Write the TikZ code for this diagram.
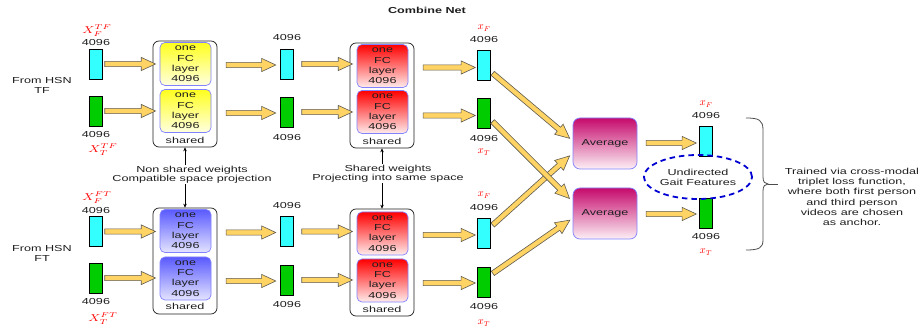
\documentclass[tikz,border=0pt]{standalone}
\usepackage{fontspec}
\setmainfont{Liberation Sans}[FakeStretch=1.45]
\usepackage{graphicx}
\usetikzlibrary{shapes.arrows,shapes.geometric,calc,arrows.meta}
\definecolor{barcyan}{RGB}{51,255,255}
\definecolor{bargreen}{RGB}{0,204,0}
\definecolor{arrfill}{RGB}{255,212,100}
\definecolor{arrdraw}{RGB}{95,90,80}
\definecolor{boxborder}{RGB}{130,130,255}
\definecolor{yeltop}{RGB}{255,255,30}
\definecolor{yelbot}{RGB}{255,255,225}
\definecolor{redtop}{RGB}{255,0,0}
\definecolor{redbot}{RGB}{255,236,236}
\definecolor{bluetop}{RGB}{90,90,255}
\definecolor{bluebot}{RGB}{228,228,255}
\definecolor{avgtop}{RGB}{198,10,108}
\definecolor{avgbot}{RGB}{252,240,246}
\definecolor{ellblue}{RGB}{0,0,210}
\definecolor{labred}{RGB}{255,0,0}
\definecolor{txtcol}{RGB}{30,30,30}
\tikzset{
  txt/.style={font=\fontsize{8.7}{10}\selectfont, inner sep=0pt, text=txtcol},
  bar/.style={draw=black, line width=0.7pt, minimum width=13pt, minimum height=30pt, inner sep=0pt, outer sep=0pt},
  cbar/.style={bar, fill=barcyan},
  gbar/.style={bar, fill=bargreen},
  sharedbox/.style={draw=txtcol, line width=0.7pt, rounded corners=6pt, fill=white, minimum width=64pt, minimum height=106pt, inner sep=0pt},
  fcbox/.style={draw=boxborder, line width=0.7pt, rounded corners=5pt, minimum width=51pt, minimum height=43pt, inner sep=0pt, align=center, text=txtcol, font=\fontsize{8.7}{10.2}\selectfont},
  fcy/.style={fcbox, top color=yeltop, bottom color=yelbot},
  fcr/.style={fcbox, top color=redtop, bottom color=redbot},
  fcb/.style={fcbox, top color=bluetop, bottom color=bluebot},
  avgbox/.style={draw=boxborder, line width=0.7pt, rounded corners=7pt, minimum width=64pt, minimum height=51pt, inner sep=0pt, top color=avgtop, bottom color=avgbot, text=txtcol, font=\fontsize{8.7}{10}\selectfont},
  fatarrow/.style={single arrow, draw=arrdraw, fill=arrfill, line width=0.6pt, inner sep=2.3pt, single arrow head extend=4pt, single arrow tip angle=50, minimum width=0pt, outer sep=0pt},
  redlab/.style={text=labred, inner sep=0pt, font=\fontsize{10.5}{12}\selectfont},
  bigX/.style={text=labred, inner sep=0pt, anchor=base, font=\fontsize{10}{12}\selectfont},
  dbl/.style={{Stealth[length=4pt,width=3.5pt]}-{Stealth[length=4pt,width=3.5pt]}, line width=0.6pt, draw=black},
}
\newcommand\fatarr[3]{\path let \p1=#2, \p2=#3, \n1={atan2(\y2-\y1,\x2-\x1)}, \n2={veclen(\x2-\x1,\y2-\y1)} in node[fatarrow, minimum height=\n2, rotate=\n1] (#1) at ($(\p1)!0.5!(\p2)$) {};}
\begin{document}
\begin{tikzpicture}[x=1pt,y=-1pt]
\useasboundingbox (0,0) rectangle (922,331);
\node[txt, font=\bfseries\fontsize{8.7}{10}\selectfont] (title) at (427,10) {Combine Net};
% left labels
\node[txt, align=center, font=\fontsize{8.7}{9.5}\selectfont] (hsntf) at (42,85.5) {From HSN\\TF};
\node[txt, align=center, font=\fontsize{8.7}{9.5}\selectfont] (hsnft) at (42,253.5) {From HSN\\FT};
% input bars
\node[cbar] (c1) at (95.5,64) {};
\node[gbar] (g1) at (95.5,111) {};
\node[cbar] (c3) at (95.5,231.5) {};
\node[gbar] (g3) at (95.5,278) {};
\node[txt] (c1n) at (96,43) {4096};
\node[bigX] (c1l) at (97,33.5) {\scalebox{1.35}[1]{$X_F^{TF}$}};
\node[txt] (g1n) at (96,135) {4096};
\node[bigX] (g1l) at (103,152.5) {\scalebox{1.35}[1]{$X_T^{TF}$}};
\node[txt] (c3n) at (96,211) {4096};
\node[bigX] (c3l) at (97,200.5) {\scalebox{1.35}[1]{$X_F^{FT}$}};
\node[txt] (g3n) at (96,302) {4096};
\node[bigX] (g3l) at (103,321.5) {\scalebox{1.35}[1]{$X_T^{FT}$}};
% first shared boxes
\node[sharedbox] (S1) at (185,94) {};
\node[fcy] (Y1a) at (185.5,64) {one\\FC\\layer\\4096};
\node[fcy] (Y1b) at (185.5,111) {one\\FC\\layer\\4096};
\node[txt] (S1l) at (185,140) {shared};
\node[sharedbox] (S3) at (185,261) {};
\node[fcb] (B3a) at (185.5,231) {one\\FC\\layer\\4096};
\node[fcb] (B3b) at (185.5,278.5) {one\\FC\\layer\\4096};
\node[txt] (S3l) at (185,306.5) {shared};
% mid bars
\node[cbar] (m1) at (286.5,64) {};
\node[gbar] (m2) at (286.5,112) {};
\node[cbar] (m3) at (286.5,231.5) {};
\node[gbar] (m4) at (286.5,280) {};
\node[txt] (m1n) at (287,38) {4096};
\node[txt] (m2n) at (287,138) {4096};
\node[txt] (m3n) at (287,206) {4096};
\node[txt] (m4n) at (287,305) {4096};
% second shared boxes
\node[sharedbox, minimum height=105pt] (S2) at (382,95.5) {};
\node[fcr] (R2a) at (382.5,66) {one\\FC\\layer\\4096};
\node[fcr] (R2b) at (382.5,112) {one\\FC\\layer\\4096};
\node[txt] (S2l) at (382,141) {shared};
\node[sharedbox, minimum height=107pt] (S4) at (382,262.5) {};
\node[fcr] (R4a) at (382.5,233.5) {one\\FC\\layer\\4096};
\node[fcr] (R4b) at (382.5,280.5) {one\\FC\\layer\\4096};
\node[txt] (S4l) at (382,309) {shared};
% output bars
\node[cbar] (o1) at (484,65.5) {};
\node[gbar] (o2) at (484,113.5) {};
\node[cbar] (o3) at (484,233) {};
\node[gbar] (o4) at (484,282) {};
\node[redlab] (o1l) at (484,28) {$x_F$};
\node[txt] (o1n) at (484,40) {4096};
\node[txt] (o2n) at (484,139) {4096};
\node[redlab] (o2l) at (484,152) {$x_T$};
\node[redlab] (o3l) at (484,195) {$x_F$};
\node[txt] (o3n) at (484,208) {4096};
\node[txt] (o4n) at (484,307) {4096};
\node[redlab] (o4l) at (484,323) {$x_T$};
% weight-sharing notes
\draw[dbl] (S1.south) -- (S3.north);
\node[txt, fill=white, inner sep=1pt, align=center, font=\fontsize{8.7}{9}\selectfont] (nsw) at (192,174.5) {Non shared weights\\Compatible space projection};
\draw[dbl] (S2.south) -- (S4.north);
\node[txt, fill=white, inner sep=1pt, align=center, font=\fontsize{8.7}{9}\selectfont] (sw) at (388,173.5) {Shared weights\\Projecting into same space};
% averages
\node[avgbox] (A1) at (605,143.5) {Average};
\node[avgbox] (A2) at (605,213.5) {Average};
% final bars
\node[cbar] (f1) at (706,141.5) {};
\node[gbar] (f2) at (706,213) {};
\node[redlab] (f1l) at (706,104) {$x_F$};
\node[txt] (f1n) at (706,116) {4096};
\node[txt] (f2n) at (706,237) {4096};
\node[redlab] (f2l) at (706,252) {$x_T$};
% fat arrows
\fatarr{a1}{(c1.east)}{(S1.west|-c1.east)}
\fatarr{a2}{(g1.east)}{(S1.west|-g1.east)}
\fatarr{a3}{(c3.east)}{(S3.west|-c3.east)}
\fatarr{a4}{(g3.east)}{(S3.west|-g3.east)}
\fatarr{a5}{($(S1.east|-m1)+(6,1)$)}{($(m1.west)+(-7,1)$)}
\fatarr{a6}{($(S1.east|-m2)+(6,1)$)}{($(m2.west)+(-7,1)$)}
\fatarr{a7}{($(S3.east|-m3)+(6,1)$)}{($(m3.west)+(-7,1)$)}
\fatarr{a8}{($(S3.east|-m4)+(6,1)$)}{($(m4.west)+(-7,1)$)}
\fatarr{a9}{($(m1.east)+(6,0)$)}{(S2.west|-m1)}
\fatarr{a10}{($(m2.east)+(6,0)$)}{(S2.west|-m2)}
\fatarr{a11}{($(m3.east)+(6,0)$)}{(S4.west|-m3)}
\fatarr{a12}{($(m4.east)+(6,0)$)}{(S4.west|-m4)}
\fatarr{a13}{($(S2.east|-o1)+(6,2)$)}{($(o1.west)+(-5,2)$)}
\fatarr{a14}{($(S2.east|-o2)+(6,2)$)}{($(o2.west)+(-5,2)$)}
\fatarr{a15}{($(S4.east|-o3)+(6,2)$)}{($(o3.west)+(-5,2)$)}
\fatarr{a16}{($(S4.east|-o4)+(6,1)$)}{($(o4.west)+(-5,1)$)}
\fatarr{a17}{($(o1.east)+(0,6)$)}{($(A1.north west)+(-5,19)$)}
\fatarr{a18}{($(o3.east)+(0,-6)$)}{($(A1.north west)+(-5,40)$)}
\fatarr{a19}{($(o2.east)+(0,6)$)}{($(A2.north west)+(-5,9)$)}
\fatarr{a20}{($(o4.east)+(0,-7)$)}{($(A2.north west)+(-5,34)$)}
\fatarr{a21}{($(A1.east|-f1)+(6,1.5)$)}{($(f1.west)+(-6,1.5)$)}
\fatarr{a22}{($(A2.east|-f2)+(6,1)$)}{($(f2.west)+(-6,1)$)}
% undirected gait features
\node[ellipse, draw=ellblue, line width=1.8pt, dash pattern=on 5.5pt off 4pt, minimum width=94pt, minimum height=44pt, inner sep=0pt, align=center, text=txtcol, font=\fontsize{8.7}{10}\selectfont] (ell) at (698,177) {Undirected\\Gait Features};
% brace and note
\draw[black!70, line width=0.8pt] (746,118) .. controls (759,118) and (763,120) .. (763,130) -- (763,177) .. controls (763,182) and (765,184) .. (768,184) .. controls (765,184) and (763,186) .. (763,191) -- (763,240) .. controls (763,248) and (759,250) .. (746,250);
\coordinate (btip) at (768,184);
\coordinate (bend) at (778,184);
\draw[black!70, line width=0.8pt] (btip) -- (bend);
\node[txt, align=center, font=\fontsize{8.7}{10.3}\selectfont] (note) at (852,197) {Trained via cross-modal\\triplet loss function,\\where both first person\\and third person\\videos are chosen\\as anchor.};
\end{tikzpicture}
\end{document}
